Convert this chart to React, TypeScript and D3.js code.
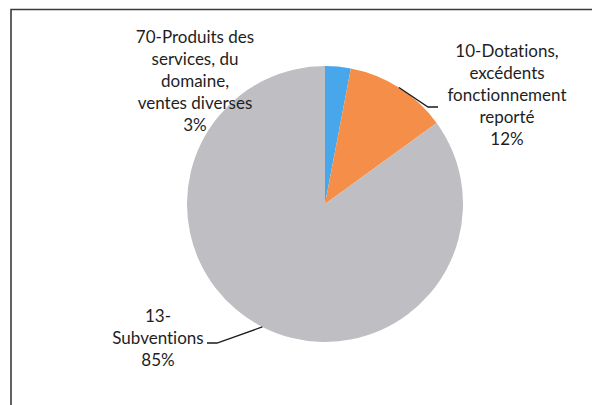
import React from 'react';
import * as d3 from 'd3';

// slice data, clockwise from 12 o'clock
const categories = [
  '70-Produits des services, du domaine, ventes diverses',
  '10-Dotations, excédents fonctionnement reporté',
  '13-Subventions',
];
const categoryLines = [
  ['70-Produits des', 'services, du', 'domaine,', 'ventes diverses'],
  ['10-Dotations,', 'excédents', 'fonctionnement', 'reporté'],
  ['13-', 'Subventions'],
];
const values = [3, 12, 85];
const colors = ['#47a7ea', '#f48e48', '#bfbfc3'];

const WIDTH = 592;
const HEIGHT = 405;
const cx = 325;
const cy = 204;
const radius = 138;
const lineHeight = 22;

// where each data label sits (first line centre) and its leader line bends
const labelLayout = [
  { x: 195, y: 37, elbow: null, end: null },
  { x: 507, y: 51.5, elbow: [428, 107], end: [438, 107] },
  { x: 158, y: 316, elbow: [217, 343], end: [207, 343] },
];

type Slice = { name: string; lines: string[]; value: number; color: string };

export default function App() {
  const data: Slice[] = categories.map((name, i) => ({
    name,
    lines: categoryLines[i],
    value: values[i],
    color: colors[i],
  }));
  const total = d3.sum(values);
  const pct = d3.format('.0%');

  const pie = d3.pie<Slice>().sort(null).value((d) => d.value);
  const arcs = pie(data);
  const arc = d3.arc<d3.PieArcDatum<Slice>>().innerRadius(0).outerRadius(radius);
  const edge = d3.arc<d3.PieArcDatum<Slice>>().innerRadius(radius * 2).outerRadius(0);

  return (
    <svg
      width={WIDTH}
      height={HEIGHT}
      style={{ position: 'absolute', left: 0, top: 0, background: '#fff', fontVariantLigatures: 'none' }}
      fontFamily="Lato, 'Open Sans', sans-serif"
    >
      <path d={`M11,${HEIGHT} V9.5 H${WIDTH}`} fill="none" stroke="#3a3a3a" strokeWidth={1.6} />
      <g transform={`translate(${cx},${cy})`}>
        {arcs.map((a) => (
          <path key={a.data.name} d={arc(a) || ''} fill={a.data.color} />
        ))}
      </g>
      {arcs.map((a, i) => {
        const lay = labelLayout[i];
        // centroid of the ring [0, 2r] falls on the pie edge at mid-angle
        const [ex, ey] = edge.centroid(a);
        const lines = [...a.data.lines, pct(a.data.value / total)];
        return (
          <g key={a.data.name}>
            {lay.elbow && lay.end && (
              <polyline
                points={`${cx + ex},${cy + ey} ${lay.elbow[0]},${lay.elbow[1]} ${lay.end[0]},${lay.end[1]}`}
                fill="none"
                stroke="#1a1a1a"
                strokeWidth={1.3}
              />
            )}
            <text textAnchor="middle" fill="#1e1e1e" fontSize={17}>
              {lines.map((t, j) => (
                <tspan key={j} x={lay.x} y={lay.y + j * lineHeight} dy="0.35em">
                  {t}
                </tspan>
              ))}
            </text>
          </g>
        );
      })}
    </svg>
  );
}
